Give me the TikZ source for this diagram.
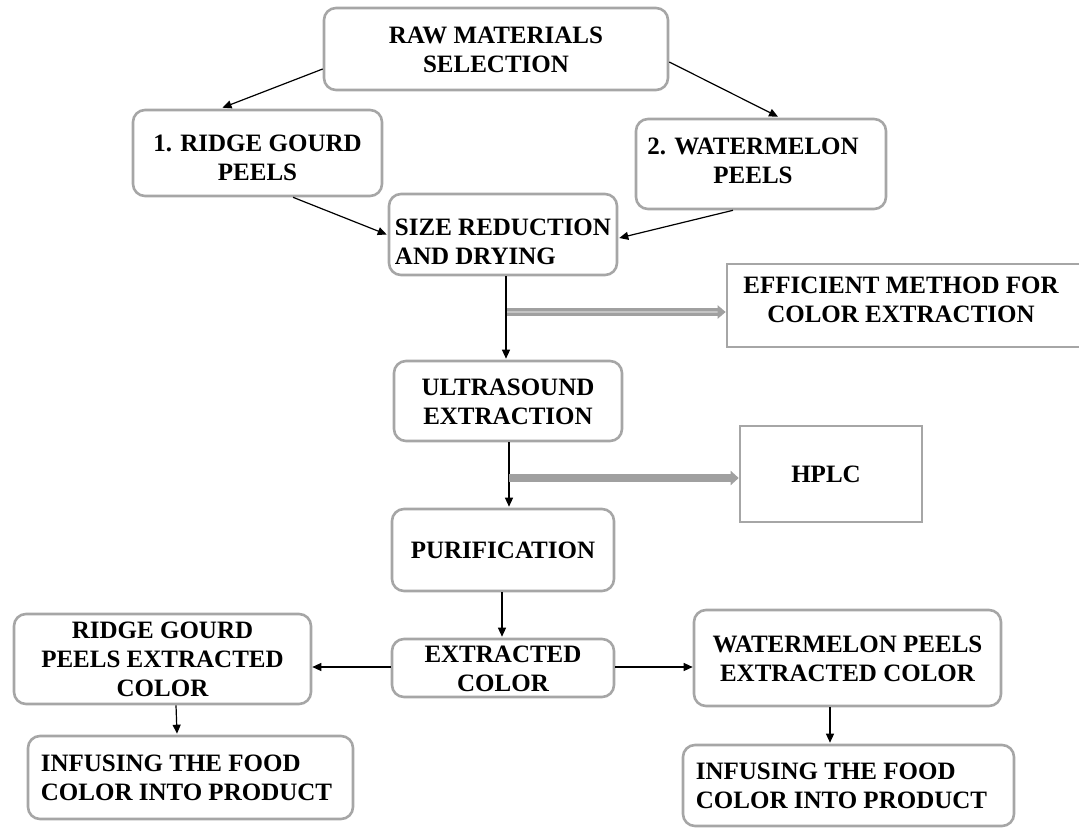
\documentclass[tikz,border=0pt]{standalone}
\usepackage{fontspec}
\setmainfont{Liberation Serif}
\usetikzlibrary{arrows.meta,calc}
\definecolor{boxgray}{HTML}{A6A6A6}
\definecolor{arrgray}{HTML}{A0A0A0}
\definecolor{arrlight}{HTML}{C4C4C4}
\newcommand{\tb}[2]{\raisebox{-3pt}[\height][\depth]{\begin{tabular}{@{}#1@{}}#2\end{tabular}}}
\newcommand{\mvt}[3]{\raisebox{#2}[\height][\depth]{#3}\hspace*{#1}}
\begin{document}
\begin{tikzpicture}[x=1pt,y=-1pt,
  box/.style={draw=boxgray, line width=2.6pt, rounded corners=12pt, fill=white,
    inner sep=0pt, font=\fontsize{25}{29}\selectfont\bfseries},
  sbox/.style={box, sharp corners},
  arr/.style={draw=black, line width=1.2pt, -{Triangle[length=9pt,width=8pt]}},
  garr/.style={draw=arrgray, line width=8pt, -{Triangle[length=8pt,width=14pt]}},
  garrd/.style={draw=arrgray, double=arrlight, line width=2.4pt, double distance=2.6pt,
    -{Triangle[length=8pt,width=13pt]}}
]
\useasboundingbox (0,0) rectangle (1079,829);

\node[box, minimum width=344pt, minimum height=82pt] (raw) at (496,49)
  {\tb{c}{RAW MATERIALS\\SELECTION}};
\node[box, minimum width=249pt, minimum height=86pt] (ridge) at (257.5,153)
  {\mvt{0pt}{-4pt}{\tb{c}{1. RIDGE GOURD\\PEELS}}};
\node[box, minimum width=250pt, minimum height=90pt] (water) at (761,164)
  {\mvt{16pt}{3.5pt}{\tb{c}{2. WATERMELON\\PEELS}}};
\node[box, minimum width=228pt, minimum height=81pt] (size) at (503,234.5)
  {\mvt{0pt}{-6.5pt}{\tb{l}{SIZE REDUCTION\\AND DRYING}}};
\node[sbox, minimum width=355pt, minimum height=83pt] (eff) at (904.5,305.5)
  {\mvt{7pt}{6pt}{\tb{c}{EFFICIENT METHOD FOR\\COLOR EXTRACTION}}};
\node[box, minimum width=228pt, minimum height=80pt] (ultra) at (508,401)
  {\tb{c}{ULTRASOUND\\EXTRACTION}};
\node[sbox, minimum width=182pt, minimum height=96pt] (hplc) at (831,474)
  {\mvt{10pt}{0pt}{HPLC}};
\node[box, minimum width=222pt, minimum height=82pt] (pur) at (503,550)
  {PURIFICATION};
\node[box, minimum width=222pt, minimum height=58pt] (ext) at (503,668)
  {\tb{c}{EXTRACTED\\COLOR}};
\node[box, minimum width=297pt, minimum height=90pt] (rext) at (162.5,659)
  {\tb{c}{RIDGE GOURD\\PEELS EXTRACTED\\COLOR}};
\node[box, minimum width=307pt, minimum height=96pt] (wext) at (847.5,658)
  {\tb{c}{WATERMELON PEELS\\EXTRACTED COLOR}};
\node[box, minimum width=325pt, minimum height=83pt] (infl) at (190.5,777.5)
  {\mvt{8pt}{0pt}{\tb{l}{INFUSING THE FOOD\\COLOR INTO PRODUCT}}};
\node[box, minimum width=331pt, minimum height=81pt] (infr) at (848.5,785.5)
  {\mvt{14pt}{0pt}{\tb{l}{INFUSING THE FOOD\\COLOR INTO PRODUCT}}};

% black connectors
\draw[arr] ([yshift=-20pt]raw.west) -- ([xshift=-35pt,yshift=1pt]ridge.north);
\draw[arr] ([yshift=-13pt]raw.east) -- ([xshift=17pt,yshift=1pt]water.north);
\draw[arr] ([xshift=35.5pt]ridge.south) -- ([xshift=-1pt]size.west);
\draw[arr] ([xshift=-28pt]water.south) -- ([xshift=1pt,yshift=-3.5pt]size.east);
\draw[arr] ([xshift=3pt]size.south) -- ([xshift=-2pt,yshift=1pt]ultra.north);
\draw[arr] ([xshift=1pt]ultra.south) -- ([xshift=6pt,yshift=1pt]pur.north);
\draw[arr] ([xshift=-1pt]pur.south) -- ([xshift=-1pt,yshift=1pt]ext.north);
\draw[arr] ([yshift=1pt]ext.west) -- ([yshift=1pt]ext.west -| rext.east);
\draw[arr] ([yshift=1pt]ext.east) -- ([yshift=1pt]ext.east -| wext.west);
\draw[arr] ([xshift=13.5pt]rext.south) -- ([xshift=-13.5pt,yshift=1pt]infl.north);
\draw[arr] ([xshift=-17.5pt]wext.south) -- ([xshift=-18.5pt,yshift=1pt]infr.north);

% gray side arrows
\coordinate (b1) at (507,312);
\coordinate (b2) at (509,478);
\draw[garrd] (b1) -- (b1 -| eff.west);
\draw[garr] (b2) -- (b2 -| hplc.west);
\end{tikzpicture}
\end{document}
